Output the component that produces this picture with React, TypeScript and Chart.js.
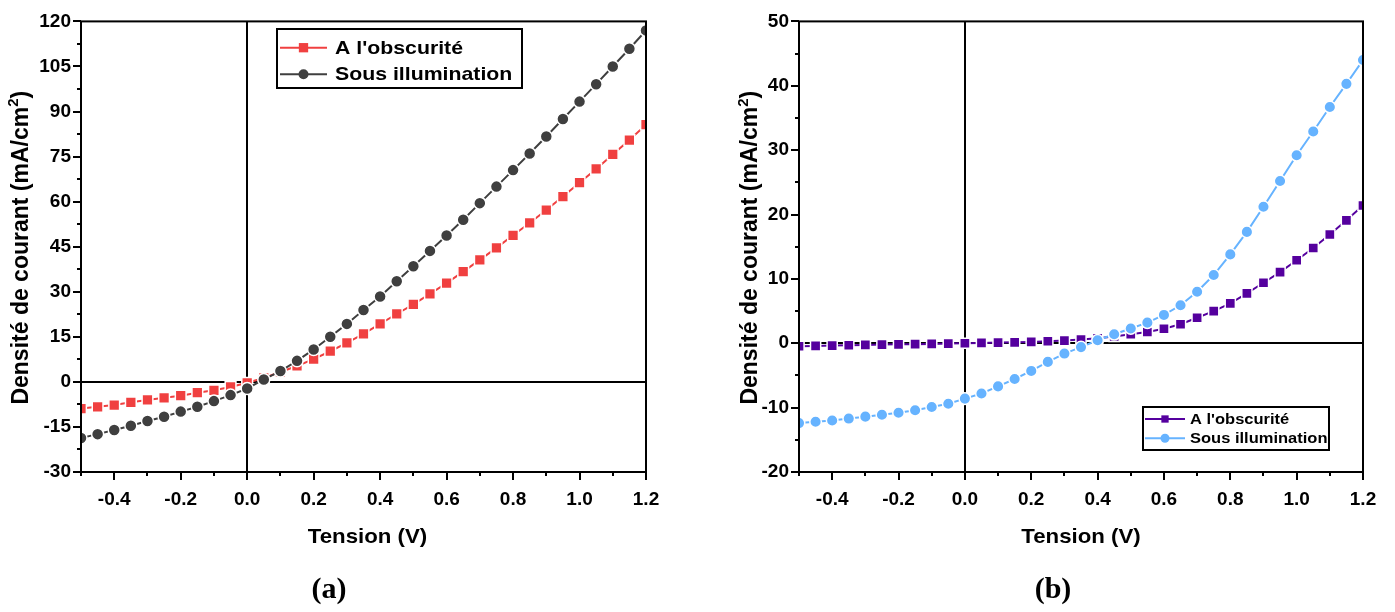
import React, { useEffect, useRef } from 'react';
import { Chart, registerables } from 'chart.js';

Chart.register(...registerables);

const FONT = "'Liberation Sans', Arial, Helvetica, sans-serif";
const SERIF = "'Liberation Serif', 'Times New Roman', serif";

// ---------- data ----------
const tension = [
  -0.5, -0.45, -0.4, -0.35, -0.3, -0.25, -0.2, -0.15, -0.1, -0.05,
  0, 0.05, 0.1, 0.15, 0.2, 0.25, 0.3, 0.35, 0.4, 0.45,
  0.5, 0.55, 0.6, 0.65, 0.7, 0.75, 0.8, 0.85, 0.9, 0.95,
  1.0, 1.05, 1.1, 1.15, 1.2,
];

// panel (a)
const obscuriteA = [
  -8.9, -8.3, -7.7, -6.8, -6.0, -5.3, -4.6, -3.6, -2.8, -1.7,
  -0.3, 1.3, 3.3, 5.3, 7.6, 10.2, 13.0, 16.0, 19.3, 22.6,
  25.8, 29.3, 32.9, 36.7, 40.6, 44.6, 48.8, 52.9, 57.2, 61.7,
  66.3, 70.9, 75.7, 80.5, 85.6,
];
const illuminationA = [
  -18.7, -17.4, -16.0, -14.6, -13.0, -11.6, -9.9, -8.3, -6.4, -4.4,
  -2.2, 0.8, 3.6, 7.0, 10.8, 15.0, 19.3, 23.9, 28.4, 33.5,
  38.5, 43.6, 48.7, 54.0, 59.5, 65.0, 70.5, 76.0, 81.7, 87.5,
  93.3, 99.1, 105.0, 110.9, 117.0,
];

// panel (b)
const obscuriteB = [
  -0.46, -0.41, -0.36, -0.31, -0.26, -0.2, -0.17, -0.14, -0.1, -0.05,
  0, 0.05, 0.1, 0.15, 0.21, 0.31, 0.41, 0.57, 0.77, 1.06,
  1.4, 1.75, 2.25, 2.95, 3.96, 5.0, 6.2, 7.76, 9.4, 11.05,
  12.9, 14.8, 16.9, 19.1, 21.4,
];
const illuminationB = [
  -12.4, -12.2, -12.0, -11.7, -11.4, -11.1, -10.8, -10.4, -9.9, -9.4,
  -8.6, -7.8, -6.7, -5.55, -4.3, -2.9, -1.6, -0.6, 0.46, 1.4,
  2.3, 3.2, 4.4, 5.9, 8.0, 10.6, 13.8, 17.3, 21.2, 25.2,
  29.2, 32.9, 36.7, 40.3, 44.0,
];

const seriesLabels = ["A l'obscurité", 'Sous illumination'];
const xTickLabels = ['-0.4', '-0.2', '0.0', '0.2', '0.4', '0.6', '0.8', '1.0', '1.2'];
const yTickLabelsA = ['-30', '-15', '0', '15', '30', '45', '60', '75', '90', '105', '120'];
const yTickLabelsB = ['-20', '-10', '0', '10', '20', '30', '40', '50'];
const xAxisTitle = 'Tension (V)';
const yAxisTitleParts = ['Densité de courant (mA/cm', '2', ')'];
const panelLabels = ['(a)', '(b)'];

// ---------- chart construction ----------
Chart.defaults.font.family = FONT;
Chart.defaults.font.size = 19;
Chart.defaults.font.weight = 'bold';
Chart.defaults.color = '#000';

type LegendCfg = {
  x1: number; y1: number; x2: number; y2: number;
  lineX1: number; lineX2: number; textX: number;
  lineY: number[]; baseline: number[];
  fontSize: number; sx: number; marker: number[];
};

type PanelCfg = {
  left: number; width: number;
  obsc: number[]; illum: number[];
  colors: string[];
  radii: number[];
  yMin: number; yMax: number; yStep: number; yLabels: string[];
  padLeft: number; padRight: number; padTop: number;
  yAxisWidth: number;
  yTitleX: number; xTitleX: number;
  panelLabel: string; panelLabelX: number;
  legend: LegendCfg;
};

function drawMarker(ctx: CanvasRenderingContext2D, style: string, x: number, y: number, size: number, color: string) {
  ctx.fillStyle = color;
  if (style === 'rect') {
    ctx.fillRect(x - size / 2, y - size / 2, size, size);
  } else {
    ctx.beginPath();
    ctx.arc(x, y, size / 2, 0, Math.PI * 2);
    ctx.fill();
  }
}

function decorPlugin(p: PanelCfg) {
  return {
    id: 'decor',
    beforeDatasetsDraw(chart: any) {
      const { ctx, chartArea: a } = chart;
      const xs = chart.scales.x;
      const ys = chart.scales.y;
      ctx.save();
      ctx.strokeStyle = '#000';
      ctx.lineWidth = 2;
      const x0 = Math.round(xs.getPixelForValue(0));
      const y0 = Math.round(ys.getPixelForValue(0));
      ctx.beginPath();
      ctx.moveTo(x0, a.top);
      ctx.lineTo(x0, a.bottom);
      ctx.moveTo(a.left, y0);
      ctx.lineTo(a.right, y0);
      ctx.stroke();
      ctx.restore();
    },
    afterDatasetsDraw(chart: any) {
      const { ctx, chartArea: a } = chart;
      const xs = chart.scales.x;
      const ys = chart.scales.y;
      ctx.save();
      ctx.strokeStyle = '#000';
      ctx.lineWidth = 2;
      ctx.strokeRect(a.left, a.top, a.right - a.left, a.bottom - a.top);
      ctx.beginPath();
      xs.ticks.forEach((t: any) => {
        const px = Math.round(xs.getPixelForValue(t.value));
        const len = t.label ? 8 : 4;
        ctx.moveTo(px, a.bottom);
        ctx.lineTo(px, a.bottom + len);
      });
      ys.ticks.forEach((t: any) => {
        const py = Math.round(ys.getPixelForValue(t.value));
        const len = t.label ? 8 : 4;
        ctx.moveTo(a.left - len, py);
        ctx.lineTo(a.left, py);
      });
      ctx.stroke();

      // legend
      const L = p.legend;
      ctx.fillStyle = '#fff';
      ctx.fillRect(L.x1, L.y1, L.x2 - L.x1, L.y2 - L.y1);
      ctx.strokeStyle = '#000';
      ctx.lineWidth = 2;
      ctx.strokeRect(L.x1, L.y1, L.x2 - L.x1, L.y2 - L.y1);
      chart.data.datasets.forEach((ds: any, i: number) => {
        const ly = L.lineY[i];
        ctx.strokeStyle = ds.borderColor;
        ctx.lineWidth = 2;
        ctx.beginPath();
        ctx.moveTo(L.lineX1, ly);
        ctx.lineTo(L.lineX2, ly);
        ctx.stroke();
        drawMarker(ctx, ds.pointStyle, (L.lineX1 + L.lineX2) / 2, ly, L.marker[i], ds.borderColor);
        ctx.save();
        ctx.translate(L.textX, L.baseline[i]);
        ctx.scale(L.sx, 1);
        ctx.fillStyle = '#000';
        ctx.font = `bold ${L.fontSize}px ${FONT}`;
        ctx.textAlign = 'left';
        ctx.textBaseline = 'alphabetic';
        ctx.fillText(ds.label, 0, 0);
        ctx.restore();
      });
      ctx.restore();
    },
    afterDraw(chart: any) {
      const { ctx, chartArea: a } = chart;
      ctx.save();
      ctx.fillStyle = '#000';
      // x title
      ctx.save();
      ctx.translate(p.xTitleX, 543);
      ctx.scale(1.06, 1);
      ctx.font = `bold 21px ${FONT}`;
      ctx.textAlign = 'center';
      ctx.textBaseline = 'alphabetic';
      ctx.fillText(xAxisTitle, 0, 0);
      ctx.restore();

      // y title (rotated, with superscript)
      const size = 23;
      const main = `bold ${size}px ${FONT}`;
      const sup = `bold ${Math.round(size * 0.66)}px ${FONT}`;
      ctx.font = main;
      const w1 = ctx.measureText(yAxisTitleParts[0]).width;
      const w3 = ctx.measureText(yAxisTitleParts[2]).width;
      ctx.font = sup;
      const w2 = ctx.measureText(yAxisTitleParts[1]).width;
      const total = w1 + w2 + w3;
      ctx.save();
      ctx.translate(p.yTitleX, (a.top + a.bottom) / 2 + 1);
      ctx.rotate(-Math.PI / 2);
      ctx.textAlign = 'left';
      ctx.textBaseline = 'middle';
      let x = -total / 2;
      ctx.font = main;
      ctx.fillText(yAxisTitleParts[0], x, 0);
      x += w1;
      ctx.font = sup;
      ctx.fillText(yAxisTitleParts[1], x, -size * 0.33);
      x += w2;
      ctx.font = main;
      ctx.fillText(yAxisTitleParts[2], x, 0);
      ctx.restore();

      // panel label
      ctx.font = `bold 30px ${SERIF}`;
      ctx.textAlign = 'center';
      ctx.textBaseline = 'alphabetic';
      ctx.fillText(p.panelLabel, p.panelLabelX, 598);
      ctx.restore();
    },
  };
}

function makeConfig(p: PanelCfg): any {
  const mk = (vals: number[]) => tension.map((t, i) => ({ x: t, y: vals[i] }));
  return {
    type: 'line',
    data: {
      datasets: [
        {
          label: seriesLabels[0],
          data: mk(p.obsc),
          borderColor: p.colors[0],
          backgroundColor: p.colors[0],
          pointBackgroundColor: p.colors[0],
          pointBorderColor: '#ffffff',
          pointBorderWidth: 1.5,
          pointStyle: 'rect',
          pointRadius: p.radii[0],
          borderWidth: 2,
          tension: 0,
          order: 1,
        },
        {
          label: seriesLabels[1],
          data: mk(p.illum),
          borderColor: p.colors[1],
          backgroundColor: p.colors[1],
          pointBackgroundColor: p.colors[1],
          pointBorderColor: '#ffffff',
          pointBorderWidth: 1.5,
          pointStyle: 'circle',
          pointRadius: p.radii[1],
          borderWidth: 2,
          tension: 0,
          order: 0,
        },
      ],
    },
    options: {
      responsive: false,
      animation: false,
      devicePixelRatio: 1,
      events: [],
      layout: { padding: { left: p.padLeft, right: p.padRight, top: p.padTop, bottom: 0 } },
      plugins: { legend: { display: false }, tooltip: { enabled: false }, title: { display: false } },
      scales: {
        x: {
          type: 'linear',
          min: -0.5,
          max: 1.2,
          grid: { display: false, drawTicks: false },
          border: { display: false },
          ticks: {
            stepSize: 0.1,
            autoSkip: false,
            maxRotation: 0,
            padding: 16,
            callback: (v: number) => {
              const n = Math.abs(Number(v)) < 1e-9 ? 0 : Number(v);
              const s = n.toFixed(1);
              return xTickLabels.includes(s) ? s : '';
            },
          },
          afterFit: (s: any) => { s.height = 140; },
        },
        y: {
          type: 'linear',
          min: p.yMin,
          max: p.yMax,
          grid: { display: false, drawTicks: false },
          border: { display: false },
          ticks: {
            stepSize: p.yStep,
            autoSkip: false,
            padding: 10,
            callback: (v: number) => {
              const n = Math.abs(Number(v)) < 1e-9 ? 0 : Number(v);
              const s = String(Math.round(n * 10) / 10);
              return p.yLabels.includes(s) ? s : '';
            },
          },
          afterFit: (s: any) => { s.width = p.yAxisWidth; },
        },
      },
    },
    plugins: [decorPlugin(p)],
  };
}

const panelA: PanelCfg = {
  left: 0, width: 700,
  obsc: obscuriteA, illum: illuminationA,
  colors: ['#F04040', '#3F3F3F'],
  radii: [7.6, 6],
  yMin: -30, yMax: 120, yStep: 7.5, yLabels: yTickLabelsA,
  padLeft: 0, padRight: 54, padTop: 16,
  yAxisWidth: 81,
  yTitleX: 21.5, xTitleX: 367.5,
  panelLabel: panelLabels[0], panelLabelX: 329,
  legend: {
    x1: 277, y1: 29, x2: 522, y2: 88,
    lineX1: 280, lineX2: 327, textX: 335,
    lineY: [47.7, 74.3], baseline: [53.5, 80],
    fontSize: 19, sx: 1.12, marker: [9.3, 10],
  },
};

const panelB: PanelCfg = {
  left: 700, width: 695,
  obsc: obscuriteB, illum: illuminationB,
  colors: ['#55009E', '#66B3FF'],
  radii: [7.2, 5.8],
  yMin: -20, yMax: 50, yStep: 5, yLabels: yTickLabelsB,
  padLeft: 18, padRight: 32, padTop: 16,
  yAxisWidth: 81,
  yTitleX: 51, xTitleX: 381,
  panelLabel: panelLabels[1], panelLabelX: 353,
  legend: {
    x1: 443, y1: 407, x2: 629, y2: 450,
    lineX1: 445, lineX2: 485, textX: 490,
    lineY: [419, 438.3], baseline: [423.5, 442.5],
    fontSize: 15, sx: 1.1, marker: [7.3, 9],
  },
};

function Panel({ p }: { p: PanelCfg }) {
  const ref = useRef<HTMLCanvasElement | null>(null);
  useEffect(() => {
    if (!ref.current) return;
    const chart = new Chart(ref.current, makeConfig(p));
    return () => chart.destroy();
  }, [p]);
  return (
    <canvas
      ref={ref}
      width={p.width}
      height={612}
      style={{ position: 'absolute', left: p.left, top: 0, width: p.width, height: 612 }}
    />
  );
}

export default function App() {
  return (
    <div style={{ position: 'absolute', left: 0, top: 0, width: 1395, height: 612, background: '#fff', overflow: 'hidden' }}>
      <Panel p={panelA} />
      <Panel p={panelB} />
    </div>
  );
}
